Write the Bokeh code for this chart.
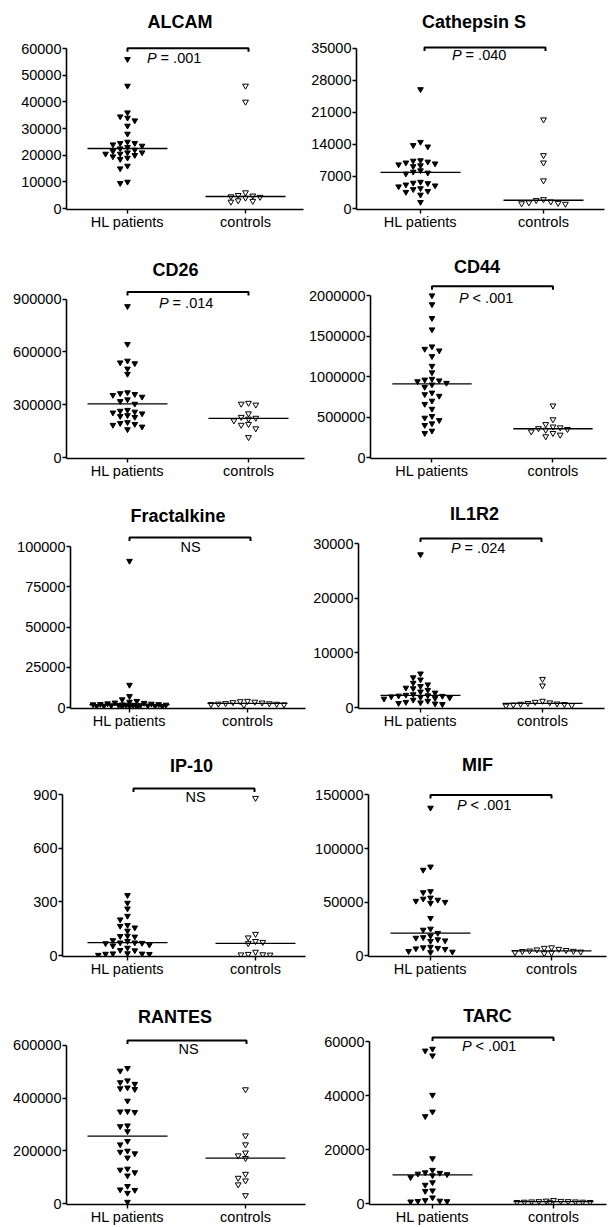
import numpy as np
from bokeh.plotting import figure
from bokeh.layouts import column, row
from bokeh.models import Range1d, FixedTicker, NumeralTickFormatter, Label
from bokeh.embed import file_html
from bokeh.resources import INLINE

# ---------------- data ----------------
groups = ["HL patients", "controls"]
titles = ["ALCAM", "Cathepsin S", "CD26", "CD44", "Fractalkine",
          "IL1R2", "IP-10", "MIF", "RANTES", "TARC"]
p_texts = ["P = .001", "P = .040", "P = .014", "P < .001", "NS",
           "P = .024", "NS", "P < .001", "NS", "P < .001"]

alcam_hl = [56000, 46000, 36000, 34500, 34000, 33000, 31000, 28000, 25000, 24500,
            24500, 24000, 23500, 23000, 22500, 22000, 21500, 21000, 21000, 20500,
            20500, 20000, 19500, 19000, 18500, 16000, 15000, 10000, 9500]
alcam_ctrl = [46000, 40000, 6000, 5000, 4800, 4500, 4300, 4000, 3000, 2800, 2500]
alcam_ticks = [0, 10000, 20000, 30000, 40000, 50000, 60000]

cath_hl = [26000, 14500, 13800, 13500, 10500, 10400, 10200, 10000, 9800, 9600,
           9400, 9200, 8300, 8000, 7800, 7600, 5800, 5600, 5500, 5200,
           5000, 4800, 4400, 4200, 3800, 3600, 3000, 1400]
cath_ctrl = [19400, 11600, 10000, 6100, 2000, 1800, 1500, 1300, 1200, 1100, 1000]
cath_ticks = [0, 7000, 14000, 21000, 28000, 35000]

cd26_hl = [860000, 645000, 550000, 540000, 535000, 505000, 475000, 370000, 365000, 360000,
           355000, 345000, 330000, 320000, 305000, 270000, 265000, 260000, 255000, 250000,
           240000, 235000, 230000, 200000, 195000, 190000, 185000, 175000, 160000]
cd26_ctrl = [310000, 305000, 300000, 250000, 230000, 225000, 220000, 210000, 190000,
             185000, 165000, 115000]
cd26_ticks = [0, 300000, 600000, 900000]

cd44_hl = [2000000, 1890000, 1720000, 1580000, 1370000, 1340000, 1320000, 1250000, 1130000,
           1050000, 970000, 960000, 950000, 940000, 920000, 900000, 870000, 800000, 780000,
           760000, 700000, 660000, 600000, 510000, 490000, 460000, 420000, 400000, 330000, 300000]
cd44_ctrl = [640000, 470000, 410000, 380000, 370000, 360000, 350000, 340000, 320000,
             300000, 280000, 260000]
cd44_ticks = [0, 500000, 1000000, 1500000, 2000000]

fract_hl = [91000, 14000, 7000, 5000, 4000, 3500, 3000, 2800, 2500, 2300, 2100, 2000,
            1900, 1800, 1700, 1700, 1600, 1500, 1400, 1300, 1200, 1100, 1000, 900, 800,
            700, 600, 500, 400]
fract_ctrl = [4000, 3800, 3500, 3200, 3000, 2600, 2500, 2300, 2200, 2000, 1800, 1500]
fract_ticks = [0, 25000, 50000, 75000, 100000]

il1r2_hl = [28000, 6200, 5500, 5100, 4500, 4200, 3900, 3600, 3500, 3200, 2900, 2700,
            2400, 2300, 2200, 2150, 2100, 2000, 1900, 1800, 1700, 1600, 1400, 1200, 1000,
            900, 800, 700, 600]
il1r2_ctrl = [5200, 4000, 1200, 1000, 900, 800, 700, 650, 600, 500, 400, 300]
il1r2_ticks = [0, 10000, 20000, 30000]

ip10_hl = [337, 294, 262, 221, 201, 170, 165, 156, 138, 110, 108, 105, 85, 80, 72, 72,
           70, 68, 60, 55, 43, 30, 28, 12, 11, 10, 9, 8, 3]
ip10_ctrl = [880, 120, 100, 80, 75, 68, 20, 8, 6, 5, 4]
ip10_ticks = [0, 300, 600, 900]

mif_hl = [138000, 83000, 80000, 60000, 59000, 54000, 53000, 52000, 51000, 50000, 49000,
          35000, 25000, 24000, 21000, 18500, 17000, 16500, 15000, 14000, 13500, 8000,
          7500, 7000, 6500, 6000, 4000, 3500, 3000]
mif_ctrl = [7500, 7000, 6000, 5500, 5000, 4500, 4200, 4000, 3500, 3000, 2500, 2000]
mif_ticks = [0, 50000, 100000, 150000]

rantes_hl = [514000, 504000, 467000, 460000, 454000, 440000, 437000, 434000, 390000,
             350000, 349000, 347000, 296000, 293000, 274000, 237000, 224000, 200000,
             196000, 190000, 174000, 132000, 128000, 118000, 106000, 66000, 53000,
             51000, 40000, 6000]
rantes_ctrl = [433000, 258000, 224000, 193000, 182000, 172000, 112000, 97000, 87000,
               72000, 31000]
rantes_ticks = [0, 200000, 400000, 600000]

tarc_hl = [57300, 56600, 54800, 40200, 34000, 32300, 16700, 12400, 11500, 11300, 11000,
           10800, 10400, 9700, 7800, 6900, 4800, 4600, 2200, 1200, 1000, 900, 800, 700]
tarc_ctrl = [1200, 1000, 900, 800, 800, 700, 700, 600, 600, 500, 500, 400]
tarc_ticks = [0, 20000, 40000, 60000]

hl_sets = [alcam_hl, cath_hl, cd26_hl, cd44_hl, fract_hl, il1r2_hl, ip10_hl, mif_hl, rantes_hl, tarc_hl]
ctrl_sets = [alcam_ctrl, cath_ctrl, cd26_ctrl, cd44_ctrl, fract_ctrl, il1r2_ctrl, ip10_ctrl,
             mif_ctrl, rantes_ctrl, tarc_ctrl]
tick_sets = [alcam_ticks, cath_ticks, cd26_ticks, cd44_ticks, fract_ticks, il1r2_ticks,
             ip10_ticks, mif_ticks, rantes_ticks, tarc_ticks]

# ---------------- layout (page pixels) ----------------
ROW_TOPS = [0, 240, 490, 740, 990]
ROW_H = [240, 250, 250, 250, 237]
COL_LEFT = [0, 306]
COL_W = [306, 306]
# L, R, T(top tick), Z(zero), HL x, ctrl x, title x, title y, bracket y, bx0, bx1, text x, text y
LAY = [
    (66, 303, 48, 208, 127, 245, 179.5, 21, 47.7, 127, 248, 175, 57),
    (356, 604, 48, 210, 420, 543, 473.5, 22, 47.5, 424, 545, 480, 55),
    (66, 304, 299, 458, 127, 248, 175, 270, 291.7, 127, 248, 187, 302.7),
    (368, 606, 295, 457, 430, 552, 475.5, 266, 285.7, 430, 552, 486, 297),
    (70, 305, 546, 707, 129, 247, 177.5, 515, 537, 129, 250, 190, 546),
    (358, 604, 543, 707, 420, 542, 474, 513, 538, 420, 541, 479, 547),
    (62, 305, 794, 955, 127, 255, 191, 765, 788, 133, 254, 195, 796),
    (368, 606, 795, 957, 430, 551, 477, 765, 795, 430, 551, 485, 805),
    (66, 305, 1046, 1207, 127, 245, 174.5, 1017, 1041, 127, 246, 188, 1050),
    (369, 606, 1041, 1203, 432, 553, 487, 1015, 1037, 432, 553, 490, 1045),
]

FONT = "Liberation Sans"
FS = "14.5px"


def swarm(vals, center, upp, cpx, dx_px=7.3, dy_px=5.0, max_slot=5):
    vals = np.asarray(vals, dtype=float)
    order = np.argsort(-vals, kind="stable")
    seq = [0]
    for j in range(1, max_slot + 1):
        seq += [-j, j]
    half = []
    for j in range(0, max_slot):
        half += [-(j + 0.5), j + 0.5]
    placed = []
    xs = np.zeros(len(vals))
    for i in order:
        ypx = vals[i] / upp
        chosen = None
        for s in seq + half:
            if all(not (ps == s and abs(py - ypx) < dy_px) for ps, py in placed):
                chosen = s
                break
        if chosen is None:
            counts = {s: sum(1 for ps, py in placed if ps == s and abs(py - ypx) < dy_px) for s in seq}
            chosen = min(seq, key=lambda s: counts[s])
        placed.append((chosen, ypx))
        xs[i] = center + chosen * dx_px / cpx
    return xs


def make_panel(k):
    r, c = divmod(k, 2)
    rowtop, H = ROW_TOPS[r], ROW_H[r]
    figleft, W = COL_LEFT[c], COL_W[c]
    L, R, T, Z, HLp, CTp, tx, ty, By, bx0, bx1, px, py = LAY[k]
    ticks = tick_sets[k]
    top = ticks[-1]
    upp = top / (Z - T)
    cpx = CTp - HLp
    x0 = 1 - (HLp - L) / cpx
    x1 = 2 + (R - CTp) / cpx
    y0 = -1.0 * upp
    y1 = top + (T - rowtop) * upp

    def dx(pxv):
        return 1 + (pxv - HLp) / cpx

    def dy(pyv):
        return (Z - pyv) * upp

    p = figure(width=W, height=H, x_range=Range1d(x0, x1), y_range=Range1d(y0, y1),
               output_backend="svg", toolbar_location=None,
               min_border_left=L - figleft, min_border_right=figleft + W - R,
               min_border_top=0, min_border_bottom=rowtop + H - (Z + 1))
    p.outline_line_color = None
    p.grid.visible = False
    p.background_fill_color = "white"
    p.border_fill_color = "white"

    xa = p.xaxis[0]
    xa.ticker = FixedTicker(ticks=[1, 2])
    xa.major_label_overrides = {1: groups[0], 2: groups[1]}
    ya = p.yaxis[0]
    ya.ticker = FixedTicker(ticks=ticks)
    ya.formatter = NumeralTickFormatter(format="0")
    ya.bounds = (y0, top)
    for ax in (xa, ya):
        ax.axis_line_width = 1.6
        ax.axis_line_color = "black"
        ax.major_tick_line_width = 1.4
        ax.major_tick_line_color = "black"
        ax.major_tick_in = 0
        ax.major_tick_out = 4
        ax.minor_tick_line_color = None
        ax.major_label_text_font = FONT
        ax.major_label_text_font_size = FS
        ax.major_label_text_color = "black"
    xa.major_label_standoff = 0
    ya.major_label_standoff = 1

    hl = hl_sets[k]
    ct = ctrl_sets[k]
    xh = swarm(hl, 1.0, upp, cpx)
    xc = swarm(ct, 2.0, upp, cpx)
    p.scatter(xh, hl, marker="inverted_triangle", size=5.6, fill_color="black",
              line_color="black", line_width=1)
    p.scatter(xc, ct, marker="inverted_triangle", size=5.8, fill_color="white",
              line_color="black", line_width=1)

    hw = 40.0 / cpx
    for cen, vals in ((1.0, hl), (2.0, ct)):
        m = float(np.median(vals))
        p.segment(x0=[cen - hw], y0=[m], x1=[cen + hw], y1=[m], line_color="black", line_width=1.3)

    # significance bracket
    tk = 3.5 * upp
    yb = dy(By)
    p.line([dx(bx0), dx(bx0), dx(bx1), dx(bx1)], [yb - tk, yb, yb, yb - tk],
           line_color="black", line_width=2)

    # title
    p.add_layout(Label(x=dx(tx), y=dy(ty), text=titles[k], text_font=FONT,
                       text_font_size="18px", text_font_style="bold",
                       text_align="center", text_baseline="middle", text_color="black"))
    # p-value text
    t = p_texts[k]
    if t.startswith("P "):
        rest = t[2:]
        wP = 0.667 * 14.5
        wsp = 0.278 * 14.5
        total = wP + wsp + len(rest) * 0.5 * 14.5
        p.add_layout(Label(x=dx(px), y=dy(py), text="P", text_font=FONT, text_font_size=FS,
                           text_font_style="italic", text_align="left", text_baseline="middle",
                           x_offset=-total / 2, text_color="black"))
        p.add_layout(Label(x=dx(px), y=dy(py), text=rest, text_font=FONT, text_font_size=FS,
                           text_align="left", text_baseline="middle",
                           x_offset=-total / 2 + wP + wsp, text_color="black"))
    else:
        p.add_layout(Label(x=dx(px), y=dy(py), text=t, text_font=FONT, text_font_size=FS,
                           text_align="center", text_baseline="middle", text_color="black"))
    return p


panels = [make_panel(k) for k in range(10)]
layout = column(*[row(panels[2 * r], panels[2 * r + 1]) for r in range(5)])

open("out.html", "w").write(file_html(layout, INLINE))
